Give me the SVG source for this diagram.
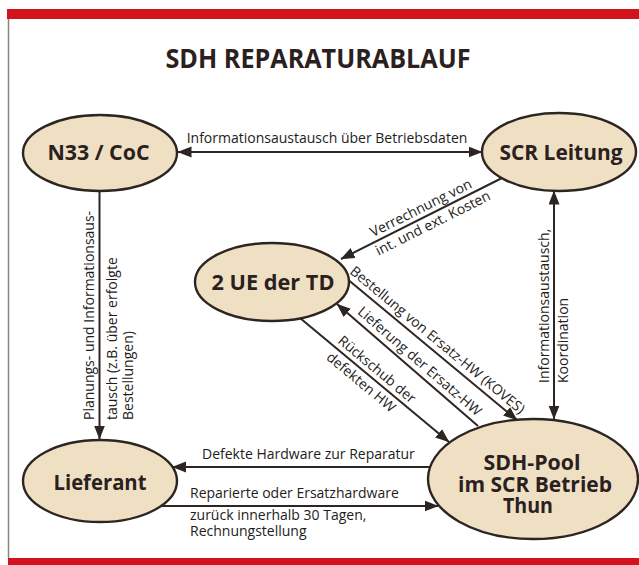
<svg xmlns="http://www.w3.org/2000/svg" width="639" height="565" viewBox="0 0 639 565">
<style>
.ell{fill:#efe0c4;stroke:#2d2522;stroke-width:2.4}
.nt{font-family:"Open Sans","Liberation Sans",sans-serif;font-weight:bold;font-size:22px;fill:#2a211e;text-anchor:middle}
.lb{font-family:"Open Sans","Liberation Sans",sans-serif;font-size:14px;fill:#231c1a}
.mid{text-anchor:middle}
.ln{stroke:#2d2522;stroke-width:2;fill:none}
.title{font-family:"Open Sans","Liberation Sans",sans-serif;font-weight:bold;font-size:26px;fill:#2a211e;text-anchor:middle}
</style>
<defs>
<marker id="ah" markerUnits="userSpaceOnUse" markerWidth="16" markerHeight="12" refX="13.5" refY="5.5" orient="auto-start-reverse">
<path d="M0,0 L14,5.5 L0,11 Z" fill="#2d2522"/>
</marker>
</defs>
<rect width="639" height="565" fill="#ffffff"/>
<g id="frame">
<rect x="7" y="9" width="632" height="10" fill="#d2131c"/>
<line x1="8.5" y1="19" x2="8.5" y2="558" stroke="#8e827c" stroke-width="1.5"/>
<rect x="8" y="558" width="631" height="7" fill="#d2131c"/>
</g>
<text id="title" class="title" x="318" y="68" textLength="305" lengthAdjust="spacingAndGlyphs">SDH REPARATURABLAUF</text>
<g id="connectors">
<line class="ln" x1="178" y1="152" x2="482" y2="152" marker-start="url(#ah)" marker-end="url(#ah)"/>
<text class="lb mid" x="327" y="143">Informationsaustausch über Betriebsdaten</text>
<line class="ln" x1="99.5" y1="191" x2="99.5" y2="439" marker-end="url(#ah)"/>
<text class="lb" transform="translate(93.5,420) rotate(-90)">Planungs- und Informationsaus-</text>
<text class="lb" transform="translate(116.7,420) rotate(-90)">tausch (z.B. über erfolgte</text>
<text class="lb" transform="translate(133,420) rotate(-90)">Bestellungen)</text>
<line class="ln" x1="554" y1="191" x2="554" y2="419" marker-start="url(#ah)" marker-end="url(#ah)"/>
<text class="lb" transform="translate(548.5,383) rotate(-90)">Informationsaustausch,</text>
<text class="lb" transform="translate(568,383) rotate(-90)">Koordination</text>
<line class="ln" x1="502" y1="178" x2="341" y2="259" marker-end="url(#ah)"/>
<g transform="translate(427,215.8) rotate(-26.7)">
<text class="lb mid" x="-2" y="-5">Verrechnung von</text>
<text class="lb mid" x="2" y="14">int. und ext. Kosten</text>
</g>
<line class="ln" x1="346" y1="278" x2="517" y2="420" marker-end="url(#ah)"/>
<text class="lb mid" transform="translate(430.6,348.3) rotate(39.7)" y="-6">Bestellung von Ersatz-HW (KOVES)</text>
<line class="ln" x1="478" y1="426" x2="337" y2="304" marker-end="url(#ah)"/>
<text class="lb mid" transform="translate(412.6,369.4) rotate(40.9)" y="-6">Lieferung der Ersatz-HW</text>
<line class="ln" x1="300" y1="318" x2="449" y2="442" marker-end="url(#ah)"/>
<g transform="translate(369.2,375.6) rotate(39.8)">
<text class="lb mid" x="2" y="-5">Rückschub der</text>
<text class="lb mid" x="-2" y="15">defekten HW</text>
</g>
<line class="ln" x1="431" y1="467" x2="172.5" y2="467" marker-end="url(#ah)"/>
<text class="lb" x="202" y="459">Defekte Hardware zur Reparatur</text>
<line class="ln" x1="161" y1="506" x2="438" y2="506" marker-end="url(#ah)"/>
<text class="lb" x="190" y="498">Reparierte oder Ersatzhardware</text>
<text class="lb" x="190" y="520">zurück innerhalb 30 Tagen,</text>
<text class="lb" x="190" y="536">Rechnungstellung</text>
</g>
<g id="n33">
<ellipse class="ell" cx="100" cy="153" rx="77" ry="38"/>
<text class="nt" x="98.5" y="160" textLength="102" lengthAdjust="spacingAndGlyphs">N33 / CoC</text>
</g>
<g id="scr">
<ellipse class="ell" cx="559" cy="152" rx="77" ry="39"/>
<text class="nt" x="561" y="160" textLength="123" lengthAdjust="spacingAndGlyphs">SCR Leitung</text>
</g>
<g id="ue">
<ellipse class="ell" cx="272" cy="282" rx="77" ry="39"/>
<text class="nt" x="273" y="290" textLength="123" lengthAdjust="spacingAndGlyphs">2 UE der TD</text>
</g>
<g id="lieferant">
<ellipse class="ell" cx="100" cy="481" rx="77" ry="41"/>
<text class="nt" x="100" y="490" textLength="93" lengthAdjust="spacingAndGlyphs">Lieferant</text>
</g>
<g id="pool">
<ellipse class="ell" cx="533" cy="479" rx="105" ry="60"/>
<text class="nt" x="532" y="470" textLength="97" lengthAdjust="spacingAndGlyphs">SDH-Pool</text>
<text class="nt" x="535" y="491.7" textLength="154" lengthAdjust="spacingAndGlyphs">im SCR Betrieb</text>
<text class="nt" x="528" y="513.3" textLength="50" lengthAdjust="spacingAndGlyphs">Thun</text>
</g>
</svg>
